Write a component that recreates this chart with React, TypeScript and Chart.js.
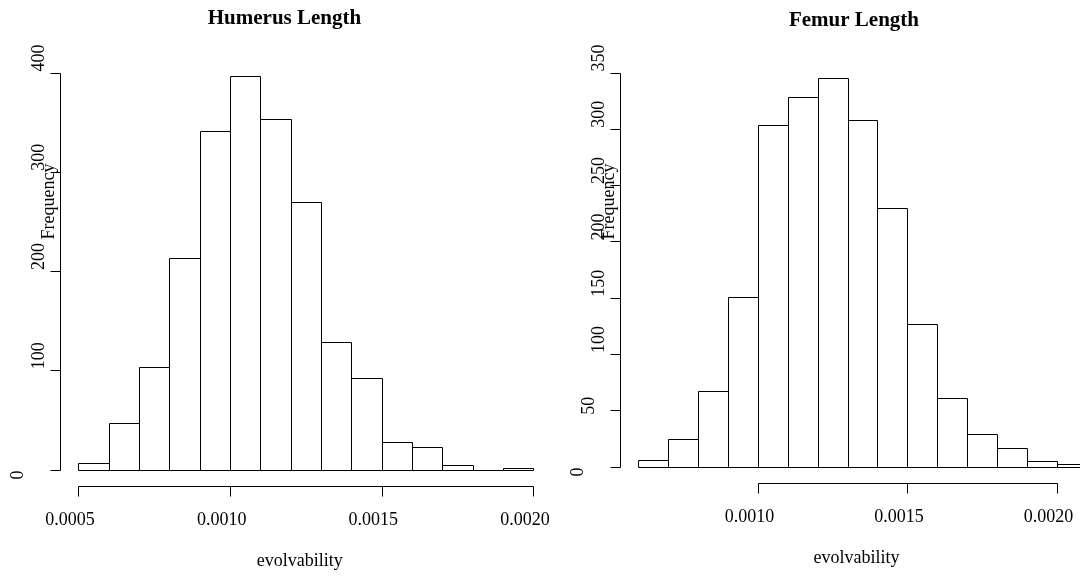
import React, { useEffect, useRef } from "react";
import { Chart, registerables } from "chart.js";

Chart.register(...registerables);

// ---- data ----
const humerusBreaks = [0.0005, 0.0006, 0.0007, 0.0008, 0.0009, 0.001, 0.0011, 0.0012, 0.0013, 0.0014, 0.0015, 0.0016, 0.0017, 0.0018, 0.0019, 0.002];
const humerusCounts = [7, 47, 103, 213, 341, 396, 353, 270, 128, 92, 28, 23, 5, 0, 2];
const femurBreaks = [0.0006, 0.0007, 0.0008, 0.0009, 0.001, 0.0011, 0.0012, 0.0013, 0.0014, 0.0015, 0.0016, 0.0017, 0.0018, 0.0019, 0.002, 0.0021];
const femurCounts = [6, 24, 67, 151, 303, 328, 345, 308, 230, 127, 61, 29, 16, 5, 2];

const humerusXTicks = [0.0005, 0.001, 0.0015, 0.002];
const humerusXTickLabels = ["0.0005", "0.0010", "0.0015", "0.0020"];
const femurXTicks = [0.001, 0.0015, 0.002];
const femurXTickLabels = ["0.0010", "0.0015", "0.0020"];
const humerusYTicks = [0, 100, 200, 300, 400];
const femurYTicks = [0, 50, 100, 150, 200, 250, 300, 350];

const humerusTitle = "Humerus Length";
const femurTitle = "Femur Length";
const xAxisTitle = "evolvability";
const yAxisTitle = "Frequency";

const FONT = '"Liberation Serif", "Times New Roman", serif';

type PanelProps = {
  title: string;
  breaks: number[];
  counts: number[];
  xTicks: number[];
  xTickLabels: string[];
  yTicks: number[];
  left: number;
  width: number;
  padding: { left: number; right: number; top: number; bottom: number };
  titleX: number;
  titleY: number;
};

function Histogram(p: PanelProps) {
  const ref = useRef<HTMLCanvasElement | null>(null);
  useEffect(() => {
    if (!ref.current) return;
    const data = p.counts.map((c, i) => ({ x: (p.breaks[i] + p.breaks[i + 1]) / 2, y: c }));
    const outlinePlugin = {
      id: "histOutline",
      afterDatasetsDraw(chart: any) {
        const { ctx } = chart;
        const meta = chart.getDatasetMeta(0);
        ctx.save();
        ctx.strokeStyle = "#000";
        ctx.lineWidth = 1;
        meta.data.forEach((el: any) => {
          const { x, y, width, base } = el.getProps(["x", "y", "width", "base"], true);
          const l = Math.round(x - width / 2) + 0.5;
          const r = Math.round(x + width / 2) + 0.5;
          const t = Math.round(y) + 0.5;
          const b = Math.round(base) + 0.5;
          ctx.beginPath();
          ctx.rect(l, t, r - l, b - t);
          ctx.stroke();
        });
        ctx.restore();
      },
    };
    const axesPlugin = {
      id: "rAxes",
      afterDraw(chart: any) {
        const { ctx, chartArea, scales } = chart;
        const xs = scales.x;
        const ys = scales.y;
        ctx.save();
        ctx.strokeStyle = "#000";
        ctx.fillStyle = "#000";
        ctx.lineWidth = 1;
        // title
        ctx.font = `bold 21px ${FONT}`;
        ctx.textAlign = "center";
        ctx.textBaseline = "middle";
        ctx.fillText(p.title, p.titleX, p.titleY);
        // y axis
        const axisX = Math.round(chartArea.left - 18) + 0.5;
        const yTop = ys.getPixelForValue(p.yTicks[p.yTicks.length - 1]);
        const yBot = ys.getPixelForValue(p.yTicks[0]);
        ctx.beginPath();
        ctx.moveTo(axisX, Math.round(yBot) + 0.5);
        ctx.lineTo(axisX, Math.round(yTop) + 0.5);
        p.yTicks.forEach((v) => {
          const y = Math.round(ys.getPixelForValue(v)) + 0.5;
          ctx.moveTo(axisX - 10, y);
          ctx.lineTo(axisX, y);
        });
        ctx.stroke();
        ctx.font = `18px ${FONT}`;
        p.yTicks.forEach((v) => {
          const label = String(v);
          const y = ys.getPixelForValue(v);
          const w = ctx.measureText(label).width;
          const cx = axisX - 42 + 1.15 * (w - 9);
          const cy = y + 5.5 - 1.11 * (w - 9);
          ctx.save();
          ctx.translate(cx, cy);
          ctx.rotate(-Math.PI / 2);
          ctx.textAlign = "center";
          ctx.textBaseline = "middle";
          ctx.fillText(label, 0, 0);
          ctx.restore();
        });
        // y axis title
        ctx.save();
        ctx.translate(axisX - 11, chartArea.top + 129);
        ctx.rotate(-Math.PI / 2);
        ctx.textAlign = "center";
        ctx.textBaseline = "middle";
        ctx.fillText(yAxisTitle, 0, 0);
        ctx.restore();
        // x axis
        const axisY = Math.round(chartArea.bottom + 16) + 0.5;
        const x0 = xs.getPixelForValue(p.xTicks[0]);
        const x1 = xs.getPixelForValue(p.xTicks[p.xTicks.length - 1]);
        ctx.beginPath();
        ctx.moveTo(Math.round(x0) + 0.5, axisY);
        ctx.lineTo(Math.round(x1) + 0.5, axisY);
        p.xTicks.forEach((v) => {
          const x = Math.round(xs.getPixelForValue(v)) + 0.5;
          ctx.moveTo(x, axisY);
          ctx.lineTo(x, axisY + 10);
        });
        ctx.stroke();
        ctx.textAlign = "center";
        ctx.textBaseline = "middle";
        p.xTicks.forEach((v, i) => {
          const x = xs.getPixelForValue(v);
          ctx.fillText(p.xTickLabels[i], x - 8.3, chartArea.bottom + 51);
        });
        ctx.fillText(xAxisTitle, (chartArea.left + chartArea.right) / 2 - 6, chartArea.bottom + 92);
        ctx.restore();
      },
    };
    const chart = new Chart(ref.current, {
      type: "bar",
      data: {
        datasets: [
          {
            data,
            backgroundColor: "#ffffff",
            borderWidth: 0,
            barPercentage: 1,
            categoryPercentage: 1,
            inflateAmount: 0,
          } as any,
        ],
      },
      options: {
        animation: false,
        responsive: false,
        devicePixelRatio: 1,
        layout: { padding: p.padding },
        plugins: { legend: { display: false }, title: { display: false }, tooltip: { enabled: false } },
        scales: {
          x: {
            type: "linear",
            display: false,
            offset: false,
            min: p.breaks[0],
            max: p.breaks[p.breaks.length - 1],
            ticks: { stepSize: 0.0005 },
          },
          y: {
            type: "linear",
            display: false,
            min: p.yTicks[0],
            max: p.yTicks[p.yTicks.length - 1],
          },
        },
      } as any,
      plugins: [outlinePlugin, axesPlugin],
    });
    return () => chart.destroy();
  }, []);
  return (
    <canvas
      ref={ref}
      width={p.width}
      height={578}
      style={{ position: "absolute", left: p.left, top: 0, width: p.width, height: 578 }}
    />
  );
}

export default function App() {
  useEffect(() => {
    document.body.style.margin = "0";
    document.body.style.overflow = "hidden";
  }, []);
  return (
    <div
      style={{
        position: "fixed",
        left: 0,
        top: 0,
        width: 1080,
        height: 578,
        overflow: "hidden",
        background: "#ffffff",
      }}
    >
      <Histogram
        title={humerusTitle}
        breaks={humerusBreaks}
        counts={humerusCounts}
        xTicks={humerusXTicks}
        xTickLabels={humerusXTickLabels}
        yTicks={humerusYTicks}
        left={0}
        width={560}
        padding={{ left: 78.3, right: 26.7, top: 72.5, bottom: 108.5 }}
        titleX={284.5}
        titleY={19}
      />
      <Histogram
        title={femurTitle}
        breaks={femurBreaks}
        counts={femurCounts}
        xTicks={femurXTicks}
        xTickLabels={femurXTickLabels}
        yTicks={femurYTicks}
        left={540}
        width={560}
        padding={{ left: 98.3, right: 13.4, top: 72.5, bottom: 111.5 }}
        titleX={314}
        titleY={21}
      />
    </div>
  );
}
